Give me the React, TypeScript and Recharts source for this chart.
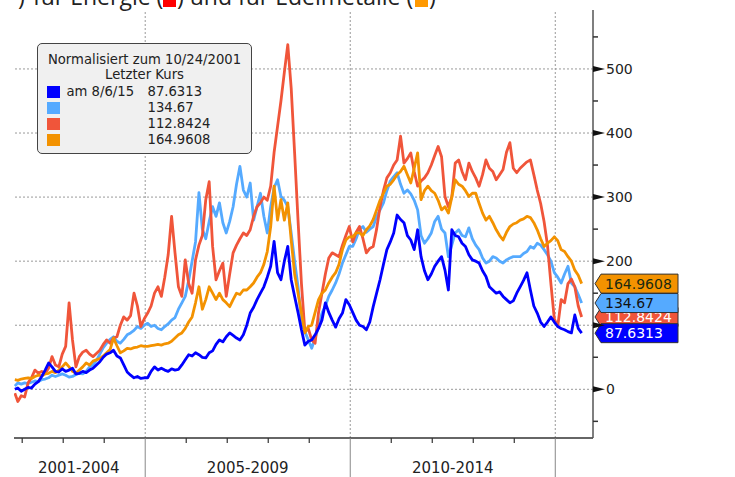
import React from 'react';
import { LineChart, Line, XAxis, YAxis, ReferenceLine, ReferenceDot } from 'recharts';

// Monthly samples from 10/24/2001 to 8/6/2015 (167 months)
const START_YEAR = 2001;
const START_MONTH = 10;
const MONTHS = 167;

// dark blue series
const blueValues: number[] = [
  0, 2, -3,
  0, 3, 2, 8, 12, 20, 30, 41, 35, 28, 27, 32,
  28, 30, 33, 24, 25, 28, 26, 30, 33, 38, 43, 50,
  55, 57, 61, 52, 49, 38, 27, 22, 18, 20, 17, 18,
  18, 28, 35, 30, 33, 30, 28, 32, 30, 31, 38, 46,
  54, 52, 57, 54, 50, 49, 57, 60, 70, 77, 74, 82,
  88, 84, 80, 77, 85, 100, 119, 128, 140, 150, 160, 175,
  192, 231, 182, 171, 200, 223, 171, 145, 120, 93, 69, 75,
  77, 85, 95, 108, 135, 120, 108, 97, 110, 119, 140, 132,
  120, 108, 100, 98, 93, 105, 129, 150, 171, 195, 218, 230,
  244, 272, 265, 260, 240, 233, 218, 249, 207, 185, 171, 180,
  192, 200, 207, 186, 155, 249, 240, 238, 228, 223, 210, 202,
  200, 197, 185, 176, 160, 155, 150, 152, 145, 140, 135, 138,
  150, 160, 170, 182, 155, 130, 119, 105, 98, 105, 113, 105,
  98, 95, 93, 90, 88, 116, 95, 87.6313,
];

// light blue series
const lightValues: number[] = [
  5, 10, 8,
  10, 9, 11, 13, 12, 15, 16, 18, 22, 20, 22, 24,
  22, 19, 20, 23, 25, 24, 28, 35, 38, 45, 55, 65,
  72, 78, 82, 75, 72, 78, 85, 88, 92, 98, 95, 100,
  103, 98, 100, 95, 93, 98, 102, 108, 112, 125, 135, 145,
  170, 200, 230, 307, 250, 235, 262, 285, 270, 291, 260, 244,
  262, 285, 320, 348, 311, 300, 322, 264, 285, 306, 270, 244,
  285, 315, 327, 301, 295, 285, 244, 200, 160, 108, 90, 77,
  64, 80, 97, 119, 130, 145, 155, 166, 180, 197, 210, 223,
  223, 235, 250, 254, 245, 250, 254, 270, 280, 291, 310, 325,
  332, 338, 320, 306, 311, 305, 295, 280, 240, 228, 235, 244,
  262, 270, 250, 244, 207, 225, 244, 249, 240, 238, 252, 235,
  225, 218, 205, 197, 200, 207, 205, 200, 197, 202, 205, 207,
  207, 207, 212, 215, 223, 220, 228, 225, 218, 210, 200, 182,
  175, 166, 180, 192, 166, 160, 148, 134.67,
];

// red series
const redValues: number[] = [
  -6, -19, -10,
  -12, 10, 18, 30, 25, 28, 25, 33, 51, 38, 35, 55,
  67, 135, 77, 35, 51, 58, 61, 55, 51, 56, 61, 70,
  77, 72, 80, 82, 100, 113, 108, 115, 150, 130, 98, 110,
  119, 130, 150, 160, 145, 175, 210, 270, 213, 160, 145, 202,
  165, 150, 202, 225, 240, 296, 324, 223, 171, 185, 197, 145,
  180, 213, 225, 235, 244, 240, 249, 270, 285, 291, 300, 295,
  317, 370, 410, 450, 495, 538, 470, 369, 264, 165, 90, 95,
  77, 72, 120, 150, 180, 205, 213, 210, 207, 225, 240, 254,
  230, 245, 254, 235, 213, 220, 223, 250, 285, 310, 330, 338,
  350, 358, 395, 353, 360, 369, 340, 317, 325, 330, 338, 350,
  365, 379, 363, 301, 285, 300, 353, 358, 340, 327, 353, 340,
  330, 317, 335, 358, 345, 340, 327, 335, 343, 370, 385, 345,
  338, 345, 350, 355, 358, 335, 311, 290, 262, 225, 165, 110,
  98, 140, 135, 165, 172, 160, 130, 112.8424,
];

// orange series
const orangeValues: number[] = [
  15, 14, 16,
  17, 18, 17, 20, 22, 21, 24, 25, 28, 26, 30, 35,
  41, 35, 28, 25, 30, 35, 41, 38, 44, 46, 48, 52,
  57, 62, 80, 68, 57, 60, 64, 63, 65, 66, 68, 67,
  67, 68, 69, 70, 69, 71, 72, 75, 80, 85, 88, 95,
  105, 113, 135, 160, 125, 140, 160, 150, 140, 150, 140, 135,
  129, 140, 150, 148, 155, 155, 160, 166, 175, 182, 195, 215,
  254, 317, 264, 296, 264, 291, 233, 180, 150, 119, 88, 98,
  100, 120, 140, 150, 155, 166, 175, 182, 195, 218, 233, 238,
  238, 244, 244, 240, 249, 255, 265, 280, 295, 306, 317, 320,
  327, 335, 340, 348, 335, 322, 345, 369, 296, 310, 317, 310,
  306, 295, 280, 285, 275, 300, 327, 320, 317, 310, 301, 306,
  306, 290, 275, 264, 270, 260, 249, 240, 233, 245, 254, 258,
  260, 264, 266, 270, 268, 260, 249, 235, 223, 228, 232, 238,
  232, 218, 215, 207, 200, 186, 178, 164.9608,
];

const seriesNames = ['Blau', 'Hellblau', 'Rot', 'Orange'];
const seriesColors = ['#0000ff', '#55aaff', '#f0553a', '#f39200'];
const lastValues = [87.6313, 134.67, 112.8424, 164.9608];
const lastValueLabels = ['87.6313', '134.67', '112.8424', '164.9608'];
const tagTextColors = ['#ffffff', '#111111', '#ffffff', '#1a2a10'];

const yTicks = [-50, 0, 50, 100, 150, 200, 250, 300, 350, 400, 450, 500, 550];
const yGrid = [0, 100, 200, 300, 400, 500];
const yearTicks = [2002, 2003, 2004, 2005, 2006, 2007, 2008, 2009, 2010, 2011, 2012, 2013, 2014, 2015];
const separatorYears = [2005, 2010, 2015];
const periodLabels = ['2001-2004', '2005-2009', '2010-2014'];
const periodCenters = [2003.38, 2007.5, 2012.5];

const legendTitle = 'Normalisiert zum 10/24/2001';
const legendSubtitle = 'Letzter Kurs';
const legendDate = 'am 8/6/15';

const titleParts = [')', 'für Energie (', ') und für Edelmetalle (', ')'];

const X_DOMAIN: [number, number] = [2001.8, 2015.92];
const Y_DOMAIN: [number, number] = [-76, 592];

// time axis position of each monthly sample (first sample = Oct 24, 2001)
const monthLabels: string[] = [];
for (let i = 0; i < MONTHS; i++) {
  const m0 = START_MONTH - 1 + i;
  const y = START_YEAR + Math.floor(m0 / 12);
  const m = (m0 % 12) + 1;
  monthLabels.push(`${y}-${String(m).padStart(2, '0')}`);
}
const monthToTime = (label: string, idx: number) => {
  const [y, m] = label.split('-').map(Number);
  return idx === 0 ? 2001.82 : y + (m - 1) / 12 + 0.06;
};

const data = monthLabels.map((lab, i) => ({
  t: monthToTime(lab, i),
  blue: blueValues[i],
  light: lightValues[i],
  red: redValues[i],
  orange: orangeValues[i],
}));

const FONT = '"DejaVu Sans", Verdana, sans-serif';

const XTick = (props: any) => {
  const { x, y, payload } = props;
  const v = payload.value as number;
  const li = periodCenters.indexOf(v);
  if (li >= 0) {
    return (
      <text x={x} y={y + 35} textAnchor="middle" fontSize={15} fontFamily={FONT} fill="#222">
        {periodLabels[li]}
      </text>
    );
  }
  if (separatorYears.includes(v)) {
    return <line x1={x} y1={y} x2={x} y2={y + 40} stroke="#888" strokeWidth={1} />;
  }
  return <line x1={x} y1={y} x2={x} y2={y + 5} stroke="#333" strokeWidth={1.2} />;
};

const YTick = (props: any) => {
  const { x, y, payload } = props;
  const v = payload.value as number;
  if (v % 100 === 0) {
    return (
      <g>
        <polygon points={`${x},${y - 3} ${x + 12},${y} ${x},${y + 3}`} fill="#111" />
        {v !== 100 && (
          <text x={x + 13} y={y + 5} fontSize={14} fontFamily={FONT} fill="#222">
            {v}
          </text>
        )}
      </g>
    );
  }
  return <line x1={x} y1={y} x2={x + 5} y2={y} stroke="#333" strokeWidth={1.5} />;
};

const makeTag = (idx: number) => (props: any) => {
  const { cx, cy } = props;
  const h = 9.5;
  const pts = `${cx + 2},${cy} ${cx + 8},${cy - h} ${cx + 85},${cy - h} ${cx + 85},${cy + h} ${cx + 8},${cy + h}`;
  return (
    <g>
      <polygon points={pts} fill={seriesColors[idx]} stroke="#333" strokeWidth={1} />
      <text x={cx + 12} y={cy + 5} fontSize={14} fontFamily={FONT} fill={tagTextColors[idx]}>
        {lastValueLabels[idx]}
      </text>
    </g>
  );
};

const tagOrder = [3, 2, 1, 0];
const xTicksAll = [...yearTicks, ...periodCenters];

const titleStyle: React.CSSProperties = {
  position: 'absolute',
  top: -15,
  fontFamily: '"Open Sans", sans-serif',
  fontSize: 23,
  lineHeight: '23px',
  color: '#222',
  whiteSpace: 'nowrap',
};

export default function App() {
  const keys = ['blue', 'light', 'red', 'orange'];
  const drawOrder = [1, 2, 3, 0];
  return (
    <div style={{ position: 'absolute', left: 0, top: 0, width: 735, height: 477, overflow: 'hidden', background: '#fff' }}>
      <LineChart width={735} height={477} data={data} margin={{ top: 10, right: 0, bottom: 0, left: 14 }}>
        {yGrid.map((v) => (
          <ReferenceLine key={`gy${v}`} y={v} stroke="#999" strokeDasharray="2 2" strokeWidth={1} />
        ))}
        {separatorYears.map((v) => (
          <ReferenceLine key={`gx${v}`} x={v} stroke="#999" strokeDasharray="2 2" strokeWidth={1} />
        ))}
        <XAxis
          dataKey="t"
          type="number"
          domain={X_DOMAIN}
          allowDataOverflow
          ticks={xTicksAll}
          interval={0}
          tick={<XTick />}
          tickLine={false}
          tickSize={0}
          tickMargin={0}
          axisLine={{ stroke: '#333', strokeWidth: 1.5 }}
          height={39}
        />
        <YAxis
          orientation="right"
          type="number"
          domain={Y_DOMAIN}
          allowDataOverflow
          ticks={yTicks}
          interval={0}
          tick={<YTick />}
          tickLine={false}
          tickSize={0}
          tickMargin={0}
          axisLine={{ stroke: '#555', strokeWidth: 1.5 }}
          width={142}
        />
        {drawOrder.map((i) => (
          <Line
            key={keys[i]}
            dataKey={keys[i]}
            name={seriesNames[i]}
            type="linear"
            stroke={seriesColors[i]}
            strokeWidth={2.8}
            strokeLinejoin="round"
            dot={false}
            isAnimationActive={false}
          />
        ))}
        {tagOrder.map((i) => (
          <ReferenceDot
            key={`tag${i}`}
            x={X_DOMAIN[1]}
            y={lastValues[i]}
            r={0}
            ifOverflow="visible"
            shape={makeTag(i)}
          />
        ))}
      </LineChart>

      <div style={{ ...titleStyle, left: 18 }}>{titleParts[0]}</div>
      <div style={{ ...titleStyle, left: 33 }}>{titleParts[1]}</div>
      <div style={{ position: 'absolute', left: 163, top: -12, width: 13, height: 19, background: '#ff0000' }} />
      <div style={{ ...titleStyle, left: 177 }}>{titleParts[2]}</div>
      <div style={{ position: 'absolute', left: 415, top: -12, width: 13, height: 19, background: '#ff9900' }} />
      <div style={{ ...titleStyle, left: 429 }}>{titleParts[3]}</div>

      <div
        style={{
          position: 'absolute',
          left: 37,
          top: 43,
          width: 213,
          height: 109,
          background: '#f0f0f0',
          border: '1.5px solid #444',
          borderRadius: 5,
          fontFamily: FONT,
          fontSize: 13.2,
          lineHeight: '15px',
          color: '#222',
        }}
      >
        <div style={{ position: 'absolute', left: 0, width: 213, top: 8, textAlign: 'center' }}>{legendTitle}</div>
        <div style={{ position: 'absolute', left: 0, width: 213, top: 23, textAlign: 'center' }}>{legendSubtitle}</div>
        {[0, 1, 2, 3].map((i) => (
          <React.Fragment key={`lg${i}`}>
            <div
              style={{
                position: 'absolute',
                left: 8.5,
                top: 41.5 + i * 16,
                width: 13,
                height: 12,
                background: seriesColors[i],
              }}
            />
            {i === 0 && (
              <div style={{ position: 'absolute', left: 28.5, top: 40 + i * 16 }}>{legendDate}</div>
            )}
            <div style={{ position: 'absolute', left: 109.5, top: 40 + i * 16 }}>{lastValueLabels[i]}</div>
          </React.Fragment>
        ))}
      </div>
    </div>
  );
}
